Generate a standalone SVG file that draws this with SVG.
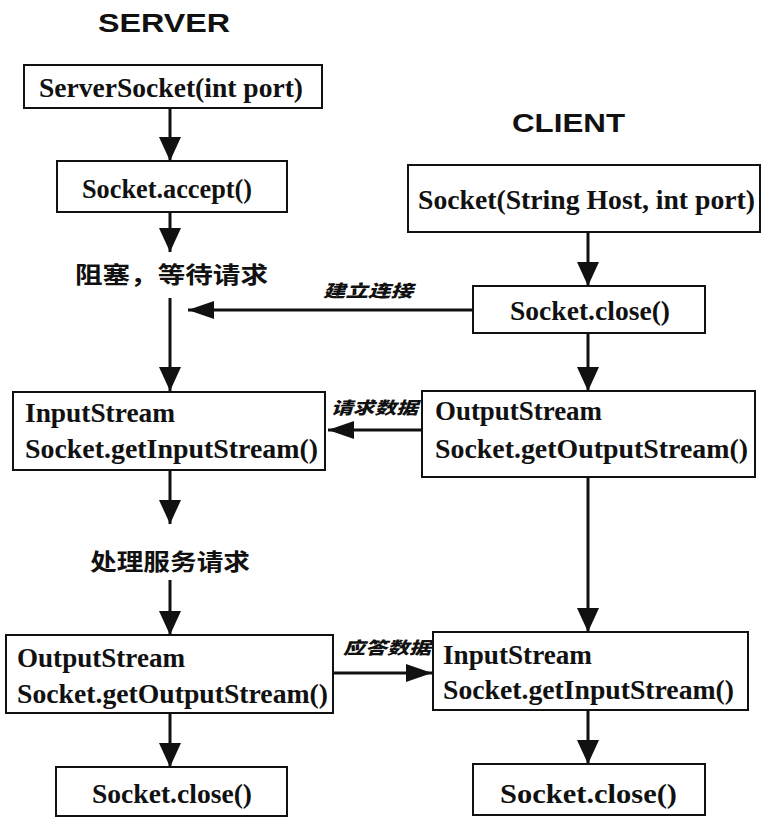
<svg xmlns="http://www.w3.org/2000/svg" width="767" height="819" viewBox="0 0 767 819">
<style>
.box{fill:#fff;stroke:#111;stroke-width:2}
.t{font-family:"Liberation Serif","Times New Roman",serif;font-weight:bold;font-size:28px;fill:#111}
.h{font-family:"Liberation Sans",Arial,sans-serif;font-weight:bold;font-size:26px;fill:#111}
.cn{font-family:"Noto Sans CJK SC","Noto Sans",sans-serif;font-weight:bold;font-size:23px;fill:#111}
.lb{font-family:"Noto Sans CJK SC","Noto Sans",sans-serif;font-weight:900;font-size:17px;fill:#111;font-style:italic}
.c{fill:none;stroke:#111;stroke-width:3}
</style>
<defs>
<marker id="av" markerUnits="userSpaceOnUse" markerWidth="24" markerHeight="22" refX="24" refY="11" orient="auto">
<path d="M0,0 L24,11 L0,22 z" fill="#111"/>
</marker>
<marker id="ah" markerUnits="userSpaceOnUse" markerWidth="26" markerHeight="18" refX="26" refY="9" orient="auto">
<path d="M0,0 L26,9 L0,18 z" fill="#111"/>
</marker>
</defs>
<rect width="767" height="819" fill="#fff"/>
<text class="h" x="98" y="32" textLength="132" lengthAdjust="spacingAndGlyphs">SERVER</text>
<text class="h" x="512" y="132" textLength="113" lengthAdjust="spacingAndGlyphs">CLIENT</text>

<g id="connectors">
<line class="c" x1="170" y1="108" x2="170" y2="161" marker-end="url(#av)"/>
<line class="c" x1="170" y1="212" x2="170" y2="252" marker-end="url(#av)"/>
<line class="c" x1="170" y1="298" x2="170" y2="391" marker-end="url(#av)"/>
<line class="c" x1="170" y1="470" x2="170" y2="524" marker-end="url(#av)"/>
<line class="c" x1="170" y1="580" x2="170" y2="635" marker-end="url(#av)"/>
<line class="c" x1="170" y1="713" x2="170" y2="767" marker-end="url(#av)"/>
<line class="c" x1="588" y1="232" x2="588" y2="286" marker-end="url(#av)"/>
<line class="c" x1="588" y1="333" x2="588" y2="391" marker-end="url(#av)"/>
<line class="c" x1="588" y1="477" x2="588" y2="632" marker-end="url(#av)"/>
<line class="c" x1="588" y1="710" x2="588" y2="764" marker-end="url(#av)"/>
<line class="c" x1="473" y1="310" x2="188" y2="310" marker-end="url(#ah)"/>
<line class="c" x1="422" y1="430" x2="328" y2="430" marker-end="url(#ah)"/>
<line class="c" x1="333" y1="673" x2="432" y2="673" marker-end="url(#ah)"/>
<text class="lb" x="323" y="297" textLength="90" lengthAdjust="spacingAndGlyphs">建立连接</text>
<text class="lb" x="331" y="414" textLength="87" lengthAdjust="spacingAndGlyphs">请求数据</text>
<text class="lb" x="343" y="654" textLength="88" lengthAdjust="spacingAndGlyphs">应答数据</text>
</g>

<g id="server-socket">
<rect class="box" x="24" y="65" width="298" height="43"/>
<text class="t" x="39" y="97" textLength="264" lengthAdjust="spacingAndGlyphs">ServerSocket(int port)</text>
</g>
<g id="server-accept">
<rect class="box" x="57" y="161" width="230" height="51"/>
<text class="t" x="82" y="198" textLength="170" lengthAdjust="spacingAndGlyphs">Socket.accept()</text>
</g>
<g id="server-block">
<text class="cn" x="75" y="283" textLength="193" lengthAdjust="spacingAndGlyphs">阻塞，等待请求</text>
</g>
<g id="server-input">
<rect class="box" x="13" y="392" width="312" height="78"/>
<text class="t" x="25" y="422" textLength="150" lengthAdjust="spacingAndGlyphs">InputStream</text>
<text class="t" x="25" y="458" textLength="293" lengthAdjust="spacingAndGlyphs">Socket.getInputStream()</text>
</g>
<g id="server-process">
<text class="cn" x="90" y="570" textLength="160" lengthAdjust="spacingAndGlyphs">处理服务请求</text>
</g>
<g id="server-output">
<rect class="box" x="6" y="635" width="327" height="78"/>
<text class="t" x="17" y="667" textLength="168" lengthAdjust="spacingAndGlyphs">OutputStream</text>
<text class="t" x="17" y="703" textLength="311" lengthAdjust="spacingAndGlyphs">Socket.getOutputStream()</text>
</g>
<g id="server-close">
<rect class="box" x="56" y="767" width="231" height="49"/>
<text class="t" x="92" y="803" textLength="160" lengthAdjust="spacingAndGlyphs">Socket.close()</text>
</g>

<g id="client-socket">
<rect class="box" x="408" y="165" width="352" height="67"/>
<text class="t" x="418" y="209" textLength="337" lengthAdjust="spacingAndGlyphs">Socket(String Host, int port)</text>
</g>
<g id="client-close1">
<rect class="box" x="473" y="286" width="232" height="47"/>
<text class="t" x="510" y="320" textLength="160" lengthAdjust="spacingAndGlyphs">Socket.close()</text>
</g>
<g id="client-output">
<rect class="box" x="422" y="391" width="333" height="86"/>
<text class="t" x="435" y="420" textLength="167" lengthAdjust="spacingAndGlyphs">OutputStream</text>
<text class="t" x="435" y="458" textLength="313" lengthAdjust="spacingAndGlyphs">Socket.getOutputStream()</text>
</g>
<g id="client-input">
<rect class="box" x="433" y="632" width="315" height="78"/>
<text class="t" x="443" y="664" textLength="149" lengthAdjust="spacingAndGlyphs">InputStream</text>
<text class="t" x="443" y="699" textLength="291" lengthAdjust="spacingAndGlyphs">Socket.getInputStream()</text>
</g>
<g id="client-close2">
<rect class="box" x="473" y="764" width="232" height="51"/>
<text class="t" x="500" y="803" textLength="177" lengthAdjust="spacingAndGlyphs">Socket.close()</text>
</g>
</svg>
